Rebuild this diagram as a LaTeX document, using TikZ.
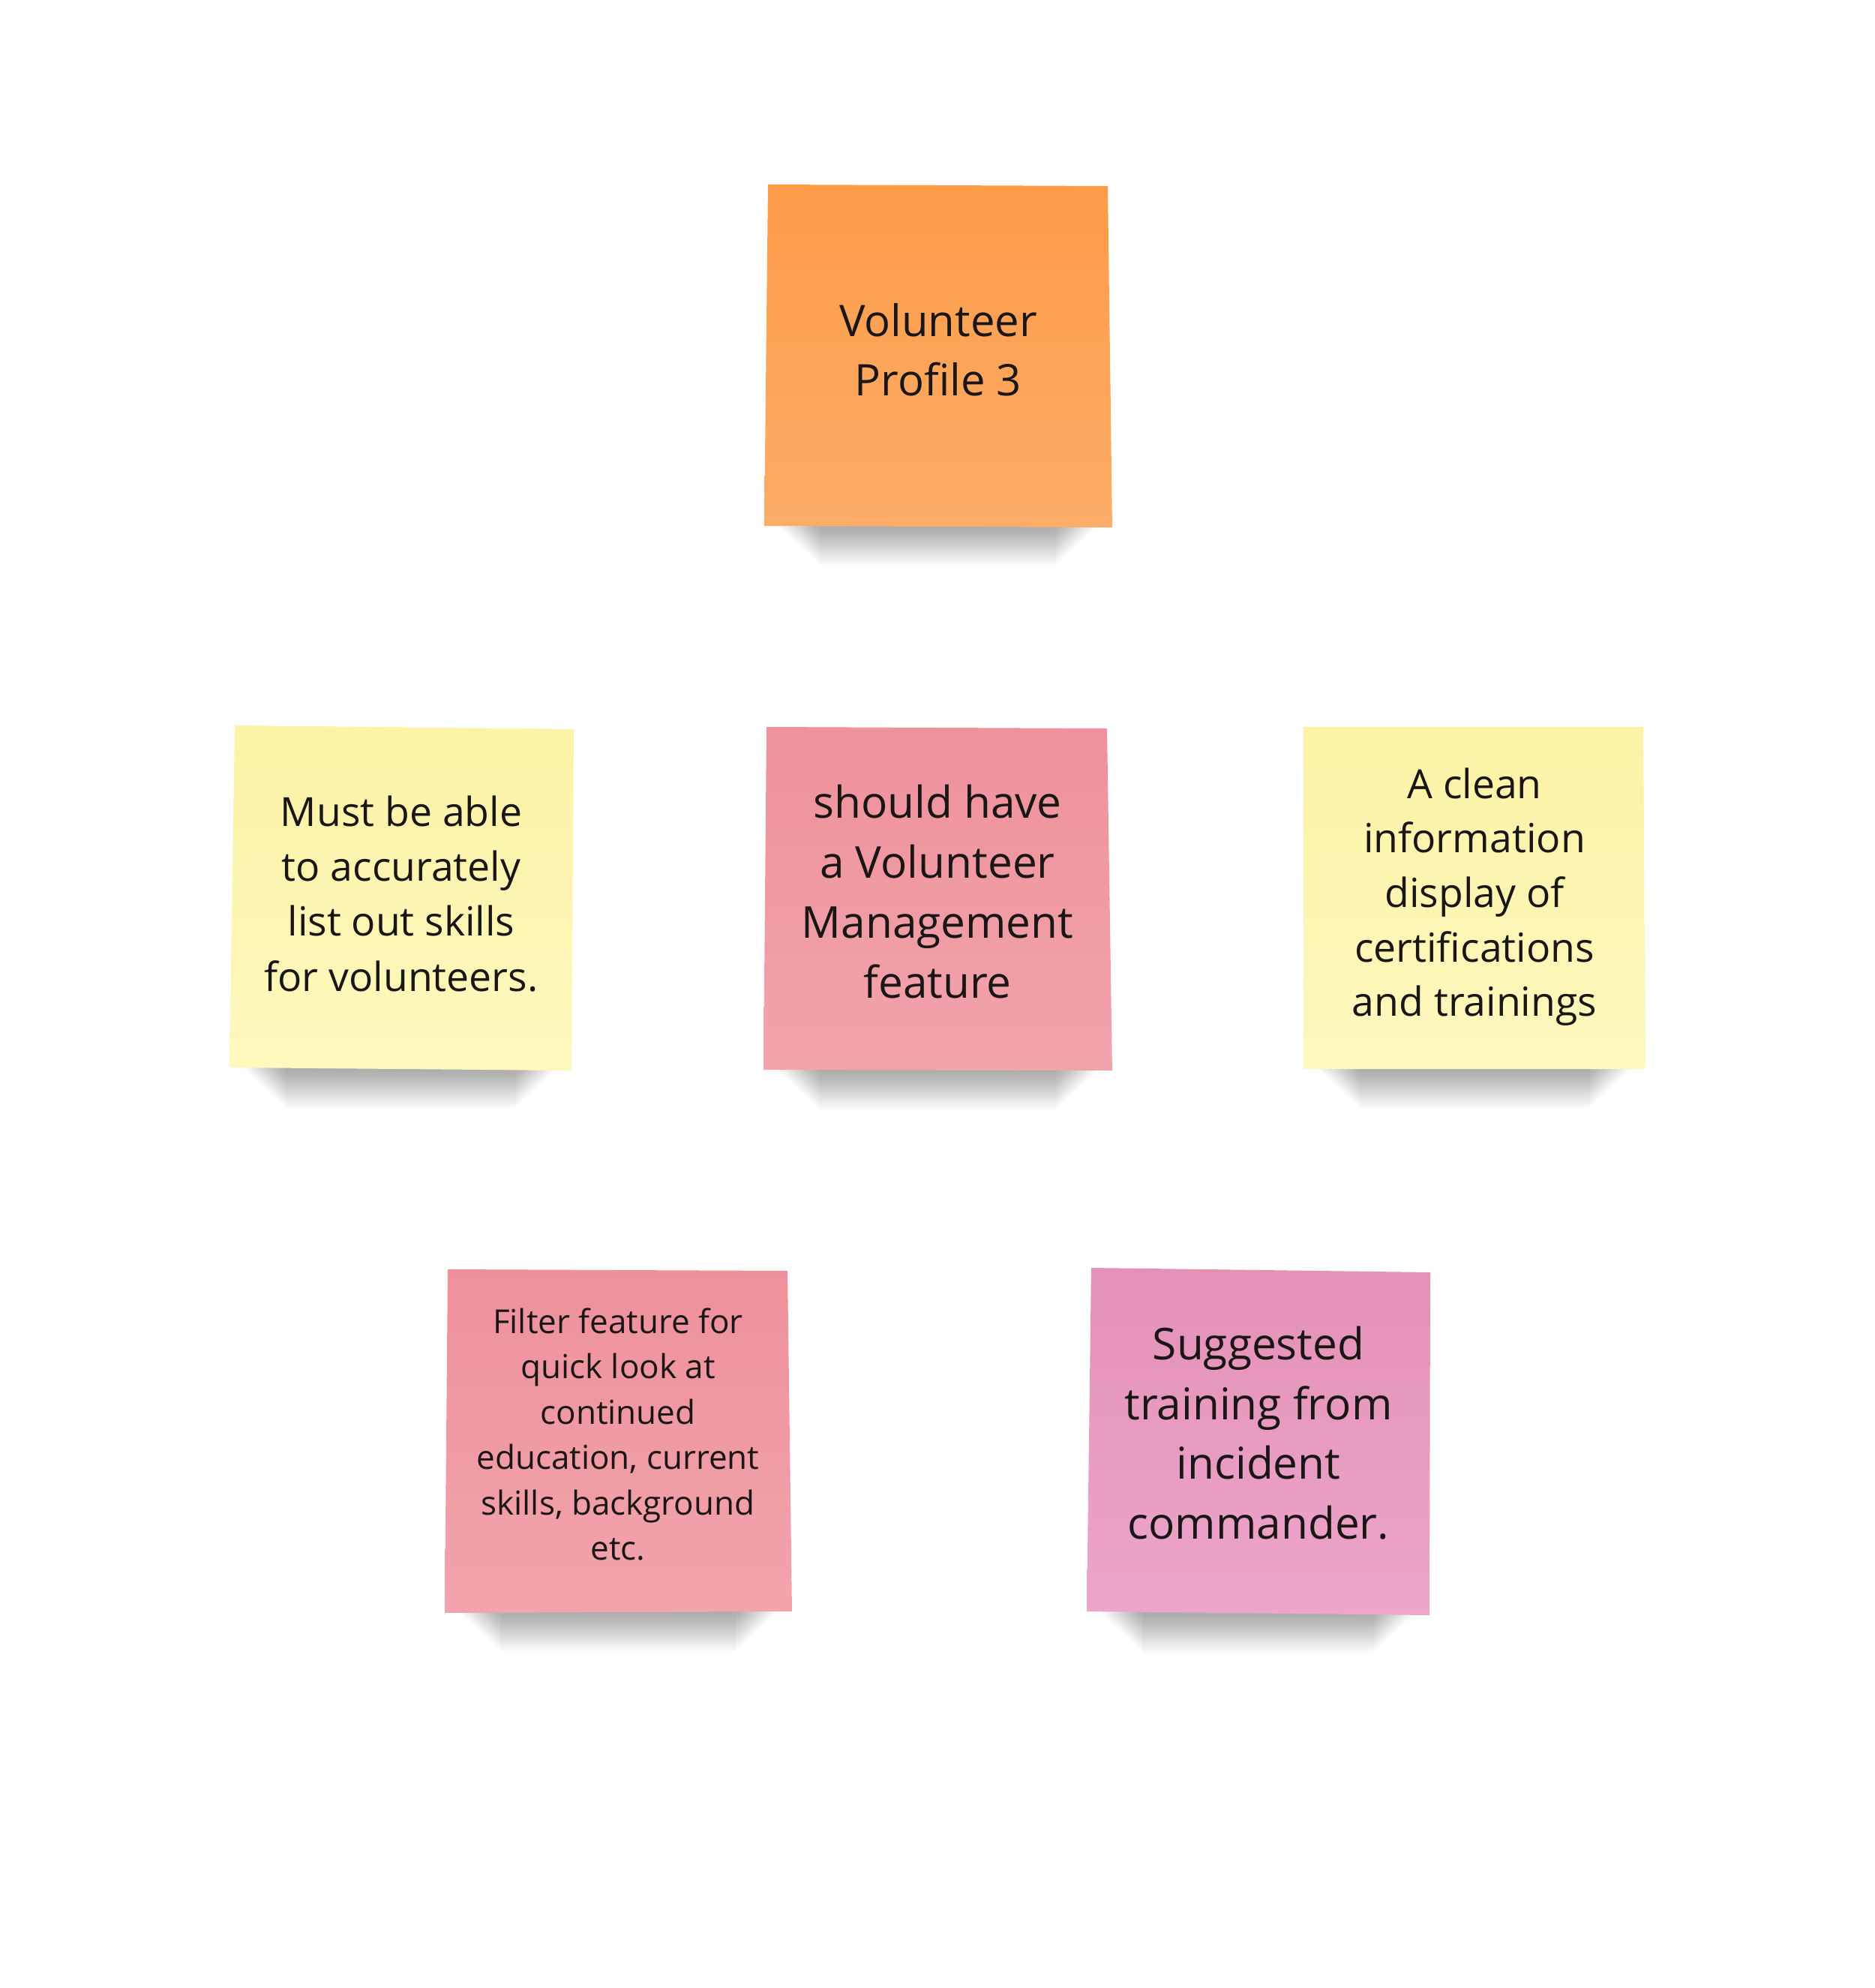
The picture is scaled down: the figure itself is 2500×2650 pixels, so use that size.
\documentclass[tikz,border=0pt]{standalone}
\usepackage{fontspec}
\setmainfont{Open Sans}
\definecolor{orT}{HTML}{FD9B47}
\definecolor{orB}{HTML}{FDAD68}
\definecolor{yeT}{HTML}{FBF3A6}
\definecolor{yeB}{HTML}{FEF8BE}
\definecolor{piT}{HTML}{EE919C}
\definecolor{piB}{HTML}{F2A4AC}
\definecolor{mgT}{HTML}{E491B6}
\definecolor{mgB}{HTML}{EDA5CA}
\definecolor{ink}{HTML}{1A1616}
\tikzset{
  notetext/.style={inner sep=0pt, align=center, text=ink, anchor=north},
  shadowpiece/.style={fill=black, opacity=0.017}
}
\newcommand\noteshadow[3]{%
  \foreach \k in {1,...,22}{%
    \fill[shadowpiece] ({#1+18+2.6*\k},{#3-20}) rectangle ({#2-18-2.6*\k},{#3+2.4*\k});
  }%
}
\begin{document}
\begin{tikzpicture}[x=1pt,y=-1pt]
\useasboundingbox (0,0) rectangle (2500,2650);
\fill[white] (0,0) rectangle (2500,2650);

% shadows
\noteshadow{1019}{1482}{702}
\noteshadow{306}{762}{1425}
\noteshadow{1018}{1483}{1427}
\noteshadow{1738}{2194}{1425}
\noteshadow{593}{1056}{2149}
\noteshadow{1449}{1906}{2151}

% notes
\shade[top color=orT, bottom color=orB] (1024,246) -- (1477,248) -- (1483,703) -- (1019,701) -- cycle;
\shade[top color=yeT, bottom color=yeB] (313,967) -- (765,972) -- (762,1427) -- (306,1423) -- cycle;
\shade[top color=piT, bottom color=piB] (1022,969) -- (1476,971) -- (1483,1427) -- (1018,1426) -- cycle;
\shade[top color=yeT, bottom color=yeB] (1738,969) -- (2191,969) -- (2194,1425) -- (1738,1425) -- cycle;
\shade[top color=piT, bottom color=piB] (597,1692) -- (1050,1694) -- (1056,2148) -- (593,2150) -- cycle;
\shade[top color=mgT, bottom color=mgB] (1455,1690) -- (1907,1696) -- (1906,2153) -- (1449,2148) -- cycle;

% texts
\node[notetext, font=\fontsize{58}{79}\selectfont] (t1) at (1251,392.7)
  {\strut Volunteer\\Profile 3};
\node[notetext, font=\fontsize{53.5}{73.3}\selectfont] (t2) at (535,1049.7)
  {\strut Must be able\\to accurately\\list out skills\\for volunteers.};
\node[notetext, font=\fontsize{58.5}{80}\selectfont] (t3) at (1250,1034)
  {\strut should have\\a Volunteer\\Management\\feature};
\node[notetext, font=\fontsize{53.5}{72.7}\selectfont] (t4) at (1966,1013)
  {\strut A clean\\information\\display of\\certifications\\and trainings};
\node[notetext, font=\fontsize{44}{60.5}\selectfont] (t5) at (824,1734.6)
  {\strut Filter feature for\\quick look at\\continued\\education, current\\skills, background\\etc.};
\node[notetext, font=\fontsize{58.5}{79.5}\selectfont] (t6) at (1678,1757)
  {\strut Suggested\\training from\\incident\\commander.};
\end{tikzpicture}
\end{document}
